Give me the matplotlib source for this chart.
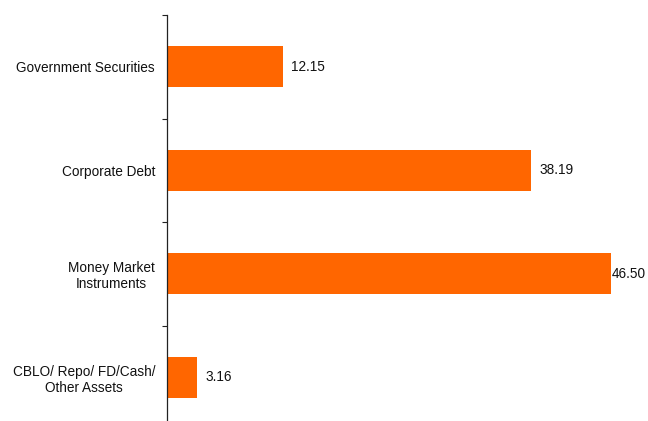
import matplotlib.pyplot as plt

# Asset allocation (%)
categories = ['Government Securities', 'Corporate Debt',
              'Money Market\nInstruments', 'CBLO/ Repo/ FD/Cash/\nOther Assets']
values = [12.15, 38.19, 46.50, 3.16]
value_labels = ['12.15', '38.19', '46.50', '3.16']

plt.rcParams['font.family'] = ['Liberation Sans', 'DejaVu Sans']

fig = plt.figure(figsize=(6.48, 4.21), dpi=100)
# axes spans x 167..648 px, y 15..429 px (bottom slightly below the figure)
ax = fig.add_axes([167 / 648, (421 - 429) / 421, (648 - 167) / 648, 414 / 421])

pos = list(range(len(categories)))
ax.barh(pos, values, height=0.4, color='#FF6600')

x_max = 50.4
ax.set_xlim(0, x_max)
ax.set_ylim(3.5, -0.5)

for p, v, lab in zip(pos, values, value_labels):
    lx = min(v + 0.85, x_max - 3.8)
    ax.text(lx, p, lab, va='center', ha='left', fontsize=9.8, color='#111111')

# tick marks on category boundaries, labels at centres
ax.set_yticks([-0.5, 0.5, 1.5, 2.5, 3.5])
ax.set_yticklabels([])
ax.set_yticks(pos, minor=True)
ax.set_yticklabels(categories, minor=True, fontsize=9.8, color='#111111',
                   multialignment='center')
ax.tick_params(axis='y', which='major', direction='out', length=3.6, width=0.8,
               color='#222222')
ax.tick_params(axis='y', which='minor', length=0, pad=8.6)

ax.set_xticks([])
for s in ['top', 'right', 'bottom']:
    ax.spines[s].set_visible(False)
ax.spines['left'].set_color('#222222')
ax.spines['left'].set_linewidth(0.9)

fig.savefig('out.png', dpi=100)
